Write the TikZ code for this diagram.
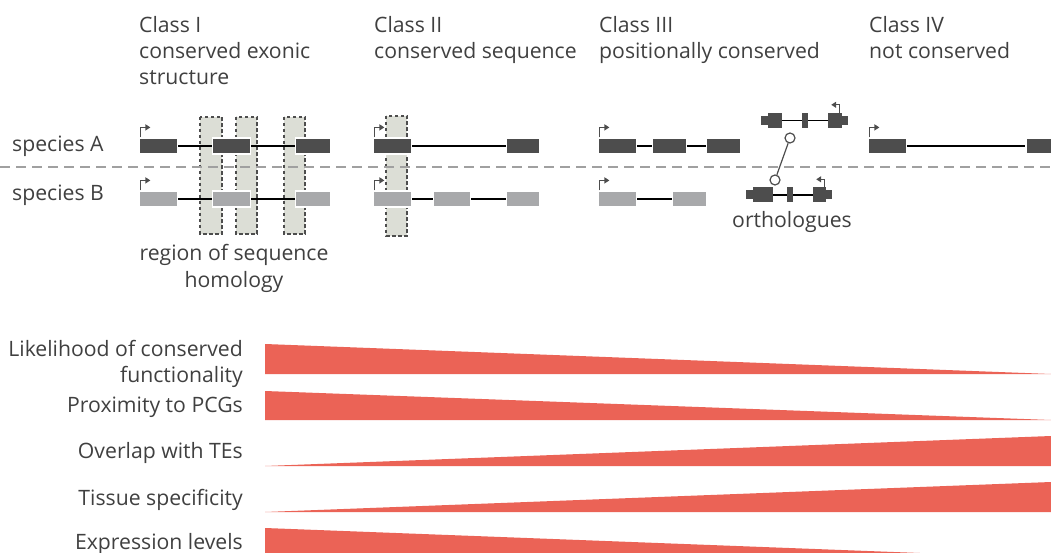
\documentclass[tikz,border=0pt]{standalone}
\usepackage{fontspec}
\setmainfont{Open Sans}
\usetikzlibrary{arrows.meta}
\definecolor{txt}{HTML}{404040}
\definecolor{exdark}{HTML}{4D4D4D}
\definecolor{exlight}{HTML}{A8A9AB}
\definecolor{regfill}{HTML}{DCDED6}
\definecolor{wedgecol}{HTML}{EB6356}
\definecolor{sepcol}{HTML}{A0A0A0}
\begin{document}
\begin{tikzpicture}[x=1pt,y=-1pt,
  lbl/.style={font=\fontsize{21.2}{26}\selectfont, text=txt, inner sep=0pt},
  ttl/.style={lbl, anchor=base west},
  rlbl/.style={lbl, anchor=base east},
  exA/.style={rectangle, fill=exdark, draw=white, line width=1.2pt, inner sep=0pt, minimum height=16pt},
  exB/.style={exA, fill=exlight},
  intron/.style={draw=black, line width=1.3pt},
  region/.style={draw=exdark, fill=regfill, dash pattern=on 3.5pt off 2.5pt, line width=1.8pt},
  tss/.style={draw=exdark, line width=1.2pt, -{Triangle[length=5pt,width=6pt]}},
  utr/.style={rectangle, fill=exdark, inner sep=0pt, minimum height=9pt},
  cds/.style={rectangle, fill=exdark, inner sep=0pt, minimum height=15pt},
  orthline/.style={draw=black, line width=1.3pt},
  ring/.style={circle, draw=exdark, fill=white, line width=1.2pt, inner sep=0pt, minimum size=10pt},
  wedge/.style={fill=wedgecol}
]
\useasboundingbox (0,0) rectangle (1051,553);

% titles
\node[ttl] (t1a) at (139,33) {Class I};
\node[ttl] (t1b) at (139,59) {conserved exonic};
\node[ttl] (t1c) at (139,85) {structure};
\node[ttl] (t2a) at (374,33) {Class II};
\node[ttl] (t2b) at (374,59) {conserved sequence};
\node[ttl] (t3a) at (599,33) {Class III};
\node[ttl] (t3b) at (599,59) {positionally conserved};
\node[ttl] (t4a) at (869,33) {Class IV};
\node[ttl] (t4b) at (869,59) {not conserved};

\node[ttl] (spA) at (12,152) {species A};
\node[ttl] (spB) at (12,201) {species B};

% regions of sequence homology
\draw[region] (200,117) rectangle (222,234);
\draw[region] (236,117) rectangle (257,234);
\draw[region] (284,117) rectangle (305,234);
\draw[region] (386,116) rectangle (407,236);

% separator
\draw[sepcol, line width=1.5pt, dash pattern=on 10pt off 6pt] (0,167) -- (1051,167);

% Class I
\node[exA, minimum width=38pt] (a1) at (158.5,146) {};
\node[exA, minimum width=38pt] (a2) at (231.5,146) {};
\node[exA, minimum width=35pt] (a3) at (313,146) {};
\node[exB, minimum width=38pt] (b1) at (158.5,199) {};
\node[exB, minimum width=38pt] (b2) at (231.5,199) {};
\node[exB, minimum width=35pt] (b3) at (313,199) {};
\draw[intron] (a1) -- (a2); \draw[intron] (a2) -- (a3);
\draw[intron] (b1) -- (b2); \draw[intron] (b2) -- (b3);
\draw[tss] ([xshift=1.5pt]a1.north west) -- ++(0,-10) -- ++(10,0);
\draw[tss] ([xshift=1.5pt]b1.north west) -- ++(0,-10) -- ++(10,0);

% Class II
\node[exA, minimum width=38pt] (c1) at (392.5,146) {};
\node[exA, minimum width=33pt] (c2) at (523,146) {};
\node[exB, minimum width=38pt] (d1) at (392.5,199) {};
\node[exB, minimum width=37pt] (d2) at (452,199) {};
\node[exB, minimum width=33pt] (d3) at (523,199) {};
\draw[intron] (c1) -- (c2);
\draw[intron] (d1) -- (d2); \draw[intron] (d2) -- (d3);
\draw[tss] ([xshift=1.5pt]c1.north west) -- ++(0,-10) -- ++(10,0);
\draw[tss] ([xshift=1.5pt]d1.north west) -- ++(0,-10) -- ++(10,0);

% Class III
\node[exA, minimum width=38pt] (e1) at (617.5,146) {};
\node[exA, minimum width=34pt] (e2) at (669.5,146) {};
\node[exA, minimum width=34pt] (e3) at (723.5,146) {};
\node[exB, minimum width=38pt] (f1) at (617.5,199) {};
\node[exB, minimum width=34pt] (f2) at (689.5,199) {};
\draw[intron] (e1) -- (e2); \draw[intron] (e2) -- (e3);
\draw[intron] (f1) -- (f2);
\draw[tss] ([xshift=1.5pt]e1.north west) -- ++(0,-10) -- ++(10,0);
\draw[tss] ([xshift=1.5pt]f1.north west) -- ++(0,-10) -- ++(10,0);

% orthologue, upper
\node[utr, minimum width=7pt] (u0) at (764.5,120.5) {};
\node[cds, minimum width=14pt] (u1) at (775,120.5) {};
\node[cds, minimum width=6pt] (u2) at (805,120.5) {};
\node[cds, minimum width=14pt] (u3) at (835,120.5) {};
\node[utr, minimum width=6pt] (u4) at (845,120.5) {};
\draw[orthline] (u1) -- (u2); \draw[orthline] (u2) -- (u3);
\draw[tss] ([xshift=-3pt]u3.north east) -- ++(0,-8) -- ++(-8,0);

% orthologue, lower
\node[utr, minimum width=7pt] (l0) at (749.5,195) {};
\node[cds, minimum width=20pt] (l1) at (763,195) {};
\node[cds, minimum width=6pt] (l2) at (790,195) {};
\node[cds, minimum width=13pt] (l3) at (819.5,195) {};
\node[utr, minimum width=6pt] (l4) at (829,195) {};
\draw[orthline] (l1) -- (l2); \draw[orthline] (l2) -- (l3);
\draw[tss] ([xshift=-2pt]l3.north east) -- ++(0,-8) -- ++(-8,0);

\node[ring] (r1) at (790,138) {};
\node[ring] (r2) at (775,180) {};
\draw[exdark, line width=1.2pt] (r1) -- (r2);

\node[lbl, anchor=base] (orth) at (792,228) {orthologues};

% Class IV
\node[exA, minimum width=38pt] (g1) at (887.5,146) {};
\node[exA, minimum width=38pt] (g2) at (1045,146) {};
\draw[intron] (g1) -- (g2);
\draw[tss] ([xshift=1.5pt]g1.north west) -- ++(0,-10) -- ++(10,0);

% region label
\node[lbl, anchor=base] (reg1) at (234,261) {region of sequence};
\node[lbl, anchor=base] (reg2) at (234,287) {homology};

% bottom labels
\node[rlbl] (p1a) at (243,356) {Likelihood of conserved};
\node[rlbl] (p1b) at (243,382) {functionality};
\node[rlbl] (p2) at (243,412) {Proximity to PCGs};
\node[rlbl] (p3) at (243,458) {Overlap with TEs};
\node[rlbl] (p4) at (243,505) {Tissue specificity};
\node[rlbl] (p5) at (243,549) {Expression levels};

% wedges
\fill[wedge] (265,344) -- (265,374) -- (1051,374) -- cycle;
\fill[wedge] (265,391) -- (265,420) -- (1051,420) -- cycle;
\fill[wedge] (265,466) -- (1051,436) -- (1051,466) -- cycle;
\fill[wedge] (265,512) -- (1051,482) -- (1051,512) -- cycle;
\fill[wedge] (265,528) -- (265,558) -- (1051,558) -- cycle;
\end{tikzpicture}
\end{document}
